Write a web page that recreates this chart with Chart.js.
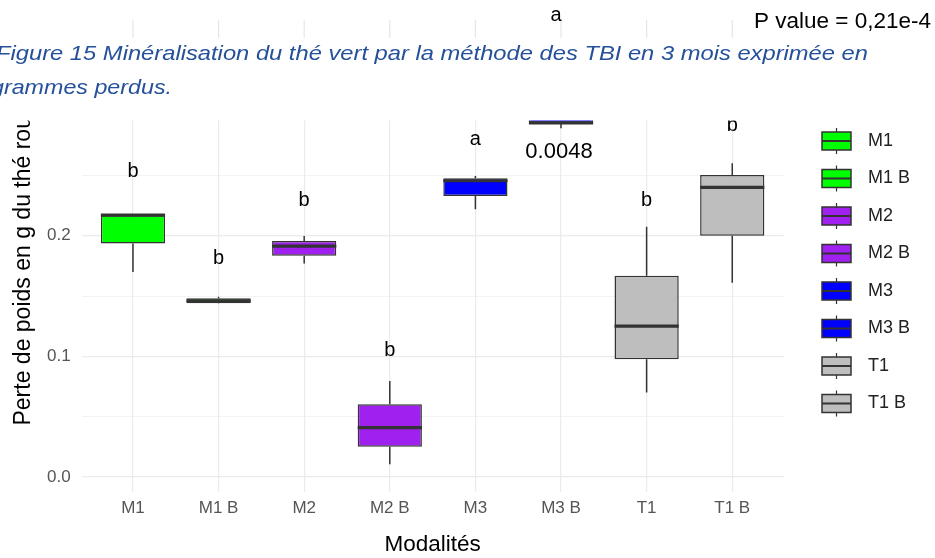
<!DOCTYPE html>
<html>
<head>
<meta charset="utf-8">
<script src="https://cdn.jsdelivr.net/npm/chart.js@4.4.1/dist/chart.umd.min.js"></script>
<style>
  html, body { margin: 0; padding: 0; background: #fff; }
  #wrap { position: relative; width: 935px; height: 558px; overflow: hidden; }
</style>
</head>
<body>
<div id="wrap"><canvas id="chart" width="935" height="558"></canvas></div>
<script>
// ---------- data ----------
const categories = ['M1', 'M1 B', 'M2', 'M2 B', 'M3', 'M3 B', 'T1', 'T1 B'];
const whiskerMin = [0.170, 0.1438, 0.177, 0.0105, 0.222, 0.289, 0.070, 0.161];
const q1 =         [0.1936, 0.1440, 0.1834, 0.0251, 0.2328, 0.2935, 0.0975, 0.2000];
const median =     [0.2170, 0.1460, 0.1914, 0.0409, 0.2455, 0.2935, 0.1251, 0.2400];
const q3 =         [0.2170, 0.1482, 0.1955, 0.0602, 0.2475, 0.3300, 0.1668, 0.2502];
const whiskerMax = [0.2170, 0.1494, 0.1997, 0.0795, 0.2494, 0.3500, 0.2074, 0.2600];
const groupLetters = ['b', 'b', 'b', 'b', 'a', '', 'b', 'b'];
const letterY =      [0.253, 0.181, 0.2295, 0.105, 0.280, null, 0.2295, 0.2917];
const boxColors = ['#00FF00', '#00FF00', '#A020F0', '#A020F0', '#0000FF', '#0000FF', '#BEBEBE', '#BEBEBE'];
const yTicks = [0, 0.05, 0.1, 0.15, 0.2, 0.25, 0.3, 0.35];
const yTickLabels = ['0.0', '', '0.1', '', '0.2', '', '0.3', ''];

const FONT = "'Liberation Sans', Arial, sans-serif";
const OUTLINE = '#333333';

function line(ctx, x1, y1, x2, y2) {
    ctx.beginPath();
    ctx.moveTo(x1, y1);
    ctx.lineTo(x2, y2);
    ctx.stroke();
}

// draw text stretched horizontally to a given width (the screenshot is widened)
function stretchedText(ctx, text, x, y, width) {
    const w = ctx.measureText(text).width;
    ctx.save();
    ctx.translate(x, y);
    ctx.scale(width / w, 1);
    ctx.fillText(text, 0, 0);
    ctx.restore();
}

// whiskers, medians and group letters on top of the floating bars
const boxPlotPlugin = {
    id: 'boxplot',
    afterDatasetsDraw(chart) {
        const { ctx, chartArea, scales: { x, y } } = chart;
        const meta = chart.getDatasetMeta(0);
        ctx.save();
        ctx.beginPath();
        ctx.rect(chartArea.left, chartArea.top, chartArea.right - chartArea.left, chartArea.bottom - chartArea.top);
        ctx.clip();
        ctx.strokeStyle = OUTLINE;
        categories.forEach((c, i) => {
            const cx = x.getPixelForValue(i);
            const half = meta.data[i].width / 2;
            ctx.lineWidth = 1.5;
            line(ctx, cx, y.getPixelForValue(q3[i]), cx, y.getPixelForValue(whiskerMax[i]));
            line(ctx, cx, y.getPixelForValue(q1[i]), cx, y.getPixelForValue(whiskerMin[i]));
            ctx.lineWidth = 3.2;
            line(ctx, cx - half, y.getPixelForValue(median[i]), cx + half, y.getPixelForValue(median[i]));
        });
        ctx.fillStyle = '#000';
        ctx.font = '20px ' + FONT;
        ctx.textAlign = 'center';
        ctx.textBaseline = 'middle';
        groupLetters.forEach((t, i) => {
            if (t) ctx.fillText(t, x.getPixelForValue(i), y.getPixelForValue(letterY[i]));
        });
        // p-value label under the M3 B box
        ctx.font = '22px ' + FONT;
        ctx.fillText('0.0048', x.getPixelForValue(5) - 2, y.getPixelForValue(0.269));
        ctx.restore();
    },
    afterDraw(chart) {
        const { ctx, scales: { x } } = chart;
        ctx.save();
        // top of the picture is cut off by the caption block
        ctx.fillStyle = '#fff';
        ctx.fillRect(0, 0, chart.width, 120.5);

        // remnants of the figure above
        ctx.strokeStyle = '#E6E6E6';
        ctx.lineWidth = 1.2;
        categories.forEach((c, i) => line(ctx, x.getPixelForValue(i), 20, x.getPixelForValue(i), 38));
        ctx.fillStyle = '#000';
        ctx.font = '20px ' + FONT;
        ctx.textAlign = 'center';
        ctx.textBaseline = 'middle';
        ctx.fillText('a', 556, 15);
        ctx.textAlign = 'right';
        ctx.font = '22.5px ' + FONT;
        ctx.fillText('P value = 0,21e-4', 931, 22);

        // caption
        ctx.fillStyle = '#25509A';
        ctx.font = 'italic 21px ' + FONT;
        ctx.textAlign = 'left';
        ctx.textBaseline = 'alphabetic';
        stretchedText(ctx, 'Figure 15 Minéralisation du thé vert par la méthode des TBI en 3 mois exprimée en', -4, 60, 872);
        stretchedText(ctx, 'grammes perdus.', -9, 94, 181);

        // legend
        ctx.textBaseline = 'middle';
        categories.forEach((c, i) => {
            const cy = 141 + i * 37.5;
            const kx = 822, kw = 29;
            ctx.strokeStyle = OUTLINE;
            ctx.lineWidth = 1.2;
            line(ctx, kx + kw / 2, cy - 13, kx + kw / 2, cy - 9);
            line(ctx, kx + kw / 2, cy + 9, kx + kw / 2, cy + 13);
            ctx.fillStyle = boxColors[i];
            ctx.fillRect(kx, cy - 9, kw, 18);
            ctx.lineWidth = 1.5;
            ctx.strokeRect(kx, cy - 9, kw, 18);
            ctx.lineWidth = 2;
            line(ctx, kx, cy, kx + kw, cy);
            ctx.fillStyle = '#222';
            ctx.font = '18px ' + FONT;
            ctx.fillText(c, 868, cy);
        });
        ctx.restore();
    }
};

new Chart(document.getElementById('chart'), {
    type: 'bar',
    data: {
        datasets: [{
            data: categories.map((c, i) => ({ x: i, y: [q1[i], q3[i]] })),
            backgroundColor: boxColors,
            borderColor: OUTLINE,
            borderWidth: 1.5,
            borderSkipped: false,
            barPercentage: 0.75,
            categoryPercentage: 1
        }]
    },
    options: {
        responsive: false,
        animation: false,
        events: [],
        layout: { padding: { top: 24.5, right: 151.4, left: 0, bottom: 0 } },
        plugins: { legend: { display: false }, tooltip: { enabled: false } },
        scales: {
            x: {
                type: 'linear',
                min: -0.6,
                max: 7.6,
                offset: false,
                afterBuildTicks: s => { s.ticks = categories.map((c, i) => ({ value: i })); },
                afterFit: s => { s.height = 66.5; },
                ticks: {
                    callback: v => categories[v],
                    color: '#555',
                    font: { family: FONT, size: 17 },
                    padding: 7,
                    autoSkip: false,
                    maxRotation: 0
                },
                grid: { color: '#EBEBEB', lineWidth: 1.2, drawTicks: false, offset: false },
                border: { display: false },
                title: {
                    display: true,
                    text: 'Modalités',
                    color: '#000',
                    font: { family: FONT, size: 22.5 },
                    padding: { top: 0, bottom: 0 }
                }
            },
            y: {
                min: -0.012,
                max: 0.375,
                afterBuildTicks: s => { s.ticks = yTicks.map(v => ({ value: v })); },
                afterFit: s => { s.width = 81.6; },
                ticks: {
                    callback: (v, i) => yTickLabels[i],
                    color: '#555',
                    font: { family: FONT, size: 17 },
                    padding: 11
                },
                grid: {
                    color: '#EBEBEB',
                    lineWidth: c => (yTickLabels[c.index] ? 1.2 : 0.6),
                    drawTicks: false
                },
                border: { display: false },
                title: {
                    display: true,
                    text: 'Perte de poids en g du thé rouge',
                    color: '#000',
                    font: { family: FONT, size: 23 },
                    padding: { top: 10, bottom: 0 }
                }
            }
        }
    },
    plugins: [boxPlotPlugin]
});
</script>
</body>
</html>
